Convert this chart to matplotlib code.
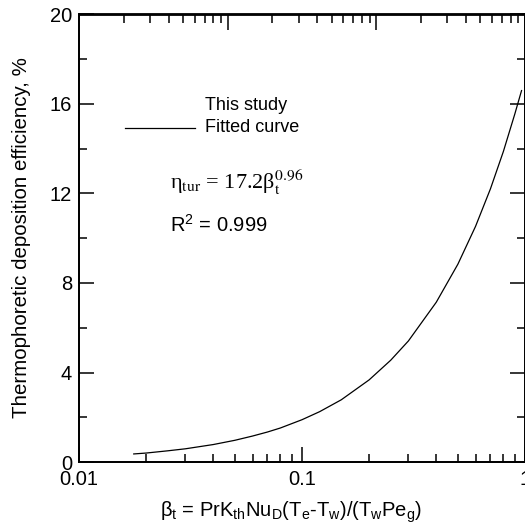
import matplotlib
matplotlib.use('Agg')
import matplotlib.pyplot as plt
from matplotlib.ticker import LogLocator, MultipleLocator, NullFormatter, FixedFormatter, FixedLocator

plt.rcParams['font.family'] = 'Liberation Sans'
plt.rcParams['mathtext.fontset'] = 'custom'
plt.rcParams['mathtext.rm'] = 'Liberation Sans'
plt.rcParams['mathtext.it'] = 'Liberation Sans:italic'
plt.rcParams['mathtext.bf'] = 'Liberation Sans:bold'

# fitted curve
beta_t = [0.0176, 0.02, 0.025, 0.03, 0.04, 0.05, 0.06, 0.07, 0.08, 0.1, 0.12,
          0.15, 0.2, 0.25, 0.3, 0.4, 0.5, 0.6, 0.7, 0.8, 0.9, 0.965]
eta_tur = [0.36, 0.40, 0.50, 0.59, 0.78, 0.97, 1.16, 1.34, 1.52, 1.89, 2.25,
           2.78, 3.67, 4.55, 5.41, 7.14, 8.84, 10.53, 12.21, 13.88, 15.55, 16.6]

x_ticks = [0.01, 0.1, 1]
x_labels = ['0.01', '0.1', '1']

W, H = 525, 524
fig = plt.figure(figsize=(W / 100, H / 100), dpi=100)
ax = fig.add_axes([79 / W, (H - 462) / H, (525 - 79) / W, (462 - 14.5) / H])

ax.plot(beta_t, eta_tur, color='black', lw=0.9)

ax.set_xscale('log')
ax.set_xlim(0.01, 1)
ax.set_ylim(0, 20)
ax.xaxis.set_major_locator(FixedLocator(x_ticks))
ax.xaxis.set_major_formatter(FixedFormatter(x_labels))
ax.xaxis.set_minor_locator(LogLocator(base=10, subs=range(2, 10)))
ax.xaxis.set_minor_formatter(NullFormatter())
ax.yaxis.set_major_locator(MultipleLocator(4))
ax.yaxis.set_minor_locator(MultipleLocator(2))

for s in ax.spines.values():
    s.set_linewidth(1.3)
ax.tick_params(which='both', direction='in', left=True, right=True, top=False,
               width=1.1, labelsize=14.5)
ax.tick_params(which='major', length=11)
ax.tick_params(which='minor', length=5.5)
ax.tick_params(axis='x', pad=6)
ax.tick_params(axis='y', pad=5)

# top axis spans three decades
ax2 = ax.twiny()
ax2.set_xscale('log')
ax2.set_xlim(0.001, 1)
ax2.xaxis.set_major_locator(FixedLocator([0.01, 0.1]))
ax2.xaxis.set_minor_locator(LogLocator(base=10, subs=range(2, 10)))
ax2.xaxis.set_major_formatter(NullFormatter())
ax2.xaxis.set_minor_formatter(NullFormatter())
ax2.tick_params(which='both', direction='in', width=1.1)
ax2.tick_params(which='major', length=11)
ax2.tick_params(which='minor', length=5.5)
for s in ax2.spines.values():
    s.set_linewidth(1.3)

fig.text(291 / W, 1 - 517 / H,
         r'β$_\mathrm{t}$ = PrK$_\mathrm{th}$Nu$_\mathrm{D}$(T$_\mathrm{e}$-T$_\mathrm{w}$)/(T$_\mathrm{w}$Pe$_\mathrm{g}$)',
         ha='center', va='baseline', fontsize=14.5)
fig.text(22 / W, 1 - 238 / H, 'Thermophoretic deposition efficiency, %', rotation=90,
         ha='center', va='center', fontsize=14.8)

# legend drawn by hand
fig.text(205 / W, 1 - 105 / H, 'This study', ha='left', va='center', fontsize=13)
fig.add_artist(plt.Line2D([125 / W, 195 / W], [1 - 128 / H, 1 - 128 / H], color='black', lw=0.9))
fig.text(205 / W, 1 - 128 / H, 'Fitted curve', ha='left', va='center', fontsize=13)

fig.text(170 / W, 1 - 189 / H, r'η$_\mathrm{tur}$ = 17.2β${}_\mathrm{t}^\mathrm{0.96}$', ha='left',
         va='baseline', fontsize=16, family='Liberation Serif', math_fontfamily='stix')
fig.text(170 / W, 1 - 225 / H, r'R$^\mathrm{2}$ = 0.999', ha='left', va='center', fontsize=14.5)

fig.savefig('out.png', dpi=100)
